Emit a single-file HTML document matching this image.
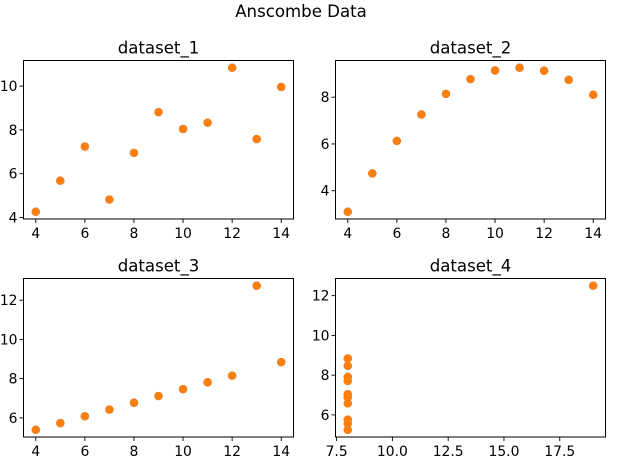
<!DOCTYPE html>
<html><head><meta charset="utf-8"><style>
html,body{margin:0;padding:0;background:#fff}
svg{display:block;font-family:"DejaVu Sans","Liberation Sans",sans-serif}
</style></head><body>
<svg id="fig" width="619" height="461" viewBox="0 0 619 461">
<text x="301" y="17" text-anchor="middle" font-size="16.6">Anscombe Data</text>
</svg>
<script>
const x123 = [10,8,13,9,11,14,6,4,12,7,5];
const y1 = [8.04,6.95,7.58,8.81,8.33,9.96,7.24,4.26,10.84,4.82,5.68];
const y2 = [9.14,8.14,8.74,8.77,9.26,8.10,6.13,3.10,9.13,7.26,4.74];
const y3 = [7.46,6.77,12.74,7.11,7.81,8.84,6.08,5.39,8.15,6.42,5.73];
const x4 = [8,8,8,8,8,8,8,19,8,8,8];
const y4 = [6.58,5.76,7.71,8.84,8.47,7.04,5.25,12.50,5.56,7.91,6.89];
const xt123 = [4,6,8,10,12,14];
const xt4 = [7.5,10.0,12.5,15.0,17.5];
const xt4Labels = ["7.5","10.0","12.5","15.0","17.5"];
const yt1 = [4,6,8,10];
const yt2 = [4,6,8];
const yt3 = [6,8,10,12];
const yt4 = [6,8,10,12];
const titles = ["dataset_1","dataset_2","dataset_3","dataset_4"];

const NS="http://www.w3.org/2000/svg";
const svg=document.getElementById('fig');
function mk(tag,attrs,parent){const e=document.createElementNS(NS,tag);for(const k in attrs)e.setAttribute(k,attrs[k]);(parent||svg).appendChild(e);return e;}
function ext(a){let mn=Math.min(...a),mx=Math.max(...a),m=(mx-mn)*0.05;return [mn-m,mx+m];}

const panels=[
 {L:23.5,T:60.5,W:270,H:158.5,x:x123,y:y1,xt:xt123,xl:xt123.map(String),yt:yt1},
 {L:335.5,T:60.5,W:270,H:158.5,x:x123,y:y2,xt:xt123,xl:xt123.map(String),yt:yt2},
 {L:23.5,T:278.5,W:270,H:158.5,x:x123,y:y3,xt:xt123,xl:xt123.map(String),yt:yt3},
 {L:335.5,T:278.5,W:270,H:158.5,x:x4,y:y4,xt:xt4,xl:xt4Labels,yt:yt4}
];
panels.forEach((p,i)=>{
  const g=mk('g',{});
  
  
  const [x0,x1]=ext(p.x),[y0,y1_]=ext(p.y);
  const sx=v=>p.L+(v-x0)/(x1-x0)*p.W;
  const sy=v=>p.T+p.H-(v-y0)/(y1_-y0)*p.H;
  const t=mk('text',{x:p.L+p.W/2,y:p.T-7,'text-anchor':'middle','font-size':16.6},g);
  t.textContent=titles[i];
  
  
  p.xt.forEach((v,j)=>{
    const X=sx(v);
    mk('line',{x1:X,x2:X,y1:p.T+p.H,y2:p.T+p.H+4,stroke:'#000','stroke-width':0.9},g);
    const tl=mk('text',{x:X,y:p.T+p.H+19,'text-anchor':'middle','font-size':13.9},g);
    tl.textContent=p.xl[j];
    
    
  });
  p.yt.forEach(v=>{
    const Y=sy(v);
    mk('line',{x1:p.L-4,x2:p.L,y1:Y,y2:Y,stroke:'#000','stroke-width':0.9},g);
    const tl=mk('text',{x:p.L-6,y:Y+5,'text-anchor':'end','font-size':13.9},g);
    tl.textContent=String(v);
    
    
  });
  p.x.forEach((v,j)=>{
    const c=mk('circle',{cx:sx(v),cy:sy(p.y[j]),r:4.2,fill:'#1f77b4'},g);
    
    
  });
  p.x.forEach((v,j)=>{
    const c=mk('circle',{cx:sx(v),cy:sy(p.y[j]),r:4.2,fill:'#ff7f0e'},g);
    
    
  });
  const fr=mk('rect',{x:p.L,y:p.T,width:p.W,height:p.H,fill:'none',stroke:'#000','stroke-width':1},g);
  
  
});
</script>
</body></html>
